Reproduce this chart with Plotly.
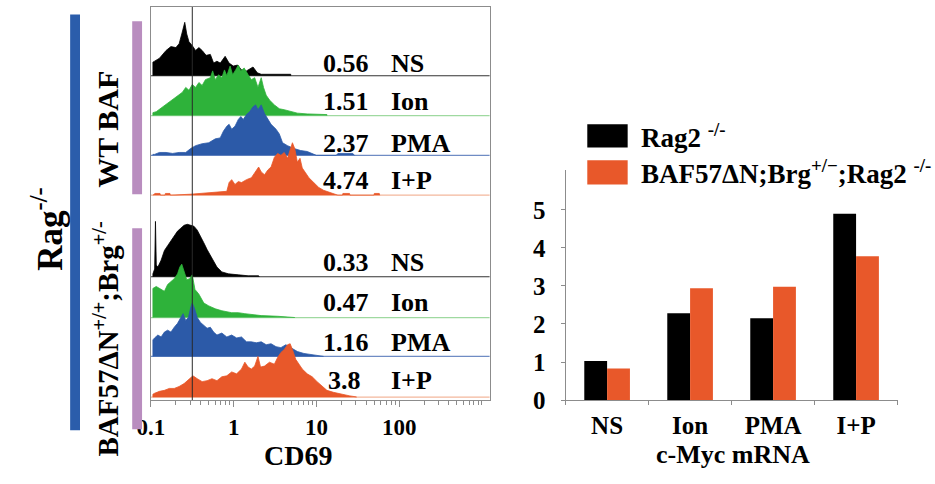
import plotly.graph_objects as go

# ---------------- data ----------------
# Flow histograms: log10(CD69) positions and event heights (arbitrary units)
wt_ns_l = [-0.976, -0.956, -0.897, -0.817, -0.758, -0.698, -0.659, -0.627, -0.591, -0.567, -0.540, -0.500, -0.460, -0.420, -0.381, -0.333, -0.282, -0.242, -0.202, -0.162, -0.103, -0.055, -0.004, 0.048, 0.095, 0.155, 0.234, 0.286, 0.333, 0.69]
wt_ns_h = [14, 15, 18, 26, 30, 29, 33, 43, 55, 43, 35, 31, 26, 29, 26, 21, 22, 13, 15, 13, 20, 13, 10, 11, 6, 5, 9, 3, 1.5, 1.5]

wt_ion_l = [-0.976, -0.936, -0.857, -0.778, -0.698, -0.619, -0.579, -0.540, -0.500, -0.460, -0.420, -0.381, -0.341, -0.282, -0.254, -0.222, -0.182, -0.143, -0.111, -0.083, -0.043, -0.012, 0.024, 0.056, 0.087, 0.127, 0.175, 0.214, 0.254, 0.294, 0.333, 0.361, 0.393, 0.433, 0.492, 0.552, 0.611, 0.691, 0.770, 0.889, 1.127]
wt_ion_h = [3, 4, 9, 14, 19, 24, 29, 26, 32, 29, 34, 31, 37, 39, 46, 37, 42, 39, 47, 41, 51, 42, 47, 52, 46, 49, 42, 37, 39, 29, 39, 29, 21, 16, 11, 7, 6, 4, 2.5, 1.7, 1]

wt_pma_l = [-0.976, -0.956, -0.897, -0.817, -0.738, -0.659, -0.579, -0.520, -0.460, -0.381, -0.301, -0.222, -0.163, -0.123, -0.083, -0.055, -0.024, 0.016, 0.056, 0.087, 0.115, 0.155, 0.194, 0.234, 0.266, 0.294, 0.333, 0.373, 0.413, 0.452, 0.512, 0.552, 0.591, 0.651, 0.730, 0.810, 0.889, 0.949, 1.0, 1.24, 1.26, 1.44, 1.46]
wt_pma_h = [1, 1, 3, 3, 2, 3, 3, 7, 10, 12, 13, 17, 18, 25, 30, 32, 27, 30, 37, 40, 37, 42, 45, 50, 52, 47, 52, 43, 37, 32, 27, 22, 13, 10, 7, 5, 4, 2, 0, 0, 2, 2, 0]

wt_ip_l = [-0.976, -0.95, -0.89, -0.885, -0.83, -0.825, -0.77, -0.765, -0.52, -0.20, -0.083, -0.055, -0.024, 0.016, 0.056, 0.095, 0.155, 0.214, 0.262, 0.302, 0.333, 0.373, 0.413, 0.452, 0.492, 0.532, 0.571, 0.611, 0.651, 0.683, 0.710, 0.738, 0.770, 0.802, 0.829, 0.869, 0.909, 0.968, 1.028, 1.087, 1.167, 1.226, 1.26, 1.315, 1.32, 1.40, 1.405, 1.695, 1.70, 1.76, 1.765]
wt_ip_h = [0, 1.8, 1.8, 0, 0, 1.8, 1.8, 0, 1, 3, 4, 13, 16, 11, 14, 13, 16, 18, 24, 29, 24, 21, 26, 29, 39, 43, 41, 44, 38, 46, 54, 48, 34, 38, 28, 23, 18, 13, 8, 5, 3, 1, 0, 0, 1.8, 1.8, 0, 0, 1.8, 1.8, 0]

mut_ns_l = [-0.976, -0.955, -0.945, -0.935, -0.916, -0.877, -0.837, -0.798, -0.758, -0.718, -0.678, -0.639, -0.599, -0.559, -0.520, -0.480, -0.440, -0.401, -0.361, -0.321, -0.282, -0.242, -0.202, -0.143, -0.063, 0.056, 0.175, 0.302, 0.31]
mut_ns_h = [3, 8, 57, 12, 10, 17, 27, 32, 37, 42, 47, 50, 53, 54, 53, 52, 48, 42, 35, 28, 22, 15, 10, 5, 3, 2, 1, 1, 0]

mut_ion_l = [-0.976, -0.936, -0.897, -0.837, -0.798, -0.758, -0.718, -0.678, -0.651, -0.627, -0.599, -0.567, -0.532, -0.500, -0.468, -0.420, -0.361, -0.301, -0.222, -0.143, -0.024, 0.056, 0.135, 0.214, 0.333, 0.532, 0.730, 0.74]
mut_ion_h = [30, 32, 30, 27, 34, 37, 40, 45, 52, 55, 47, 39, 40, 44, 29, 24, 15, 12, 9, 7, 5, 5, 4, 3, 2, 1.3, 0.5, 0]

mut_pma_l = [-0.976, -0.956, -0.916, -0.877, -0.837, -0.798, -0.758, -0.718, -0.678, -0.639, -0.611, -0.579, -0.547, -0.520, -0.500, -0.472, -0.440, -0.401, -0.361, -0.321, -0.282, -0.242, -0.202, -0.143, -0.083, -0.024, 0.036, 0.095, 0.155, 0.214, 0.274, 0.333, 0.393, 0.452, 0.512, 0.571, 0.631, 0.691, 0.770, 0.849, 0.968, 1.087]
mut_pma_h = [17, 19, 22, 20, 25, 27, 25, 30, 34, 40, 44, 37, 40, 50, 55, 49, 40, 35, 32, 29, 30, 25, 22, 24, 20, 22, 19, 20, 15, 15, 14, 15, 12, 13, 10, 9, 12, 9, 5, 3, 1.3, 0.3]

mut_ip_l = [-0.976, -0.956, -0.897, -0.837, -0.778, -0.718, -0.659, -0.599, -0.540, -0.492, -0.440, -0.381, -0.321, -0.262, -0.202, -0.143, -0.083, -0.024, 0.036, 0.095, 0.135, 0.175, 0.214, 0.254, 0.294, 0.325, 0.373, 0.433, 0.492, 0.532, 0.571, 0.611, 0.651, 0.683, 0.710, 0.750, 0.790, 0.829, 0.889, 0.949, 1.008, 1.068, 1.127, 1.206, 1.306, 1.405, 1.484]
mut_ip_h = [3, 4, 6, 7, 9, 9, 11, 14, 19, 22, 19, 16, 17, 19, 17, 21, 22, 26, 24, 29, 36, 31, 29, 32, 42, 31, 32, 36, 34, 41, 46, 49, 54, 55, 49, 39, 34, 29, 24, 21, 16, 11, 7, 5, 3, 1.3, 0.3]

stim_labels = ["NS", "Ion", "PMA", "I+P"]
wt_mfi = ["0.56", "1.51", "2.37", "4.74"]
mut_mfi = ["0.33", "0.47", "1.16", "3.8"]

# c-Myc mRNA bar chart
myc_categories = ["NS", "Ion", "PMA", "I+P"]
myc_rag2 = [1.03, 2.28, 2.15, 4.90]
myc_baf57 = [0.83, 2.94, 2.98, 3.78]
series_names = ["Rag2 <sup>-/-</sup>", "BAF57ΔN;Brg<sup>+/−</sup>;Rag2 <sup>-/-</sup>"]

hist_major = [0.1, 1, 10, 100]
hist_major_text = ["0.1", "1", "10", "100"]

# ---------------- style ----------------
FONT = "Liberation Serif"
W, H = 935, 484
BLACK = "#000000"
GREEN = "#2eb23a"
BLUE = "#2c5aa8"
ORANGE = "#e8582a"
PURPLE = "#b98dbf"
BARBLUE = "#2b5dab"
fill_colors = [BLACK, GREEN, BLUE, ORANGE]
line_colors = ["#333333", "#9fd9a0", "#6f8cc4", "#f3b79c"]
GRID = "#8c8c8c"

def px(xp):
    return xp / W

def py(yp):
    return (H - yp) / H

# histogram panel geometry (pixels)
HX0, HX1, HY0, HY1 = 139, 483, 7, 412
DEC = 84.0
LOG0 = -1.0
LOG1 = -1 + (HX1 - HX0) / DEC
YR = HY1 - HY0
row_base_px = [78, 119, 160, 201, 285, 327, 367, 409]
row_base = [HY1 - b for b in row_base_px]
label_dy = [13, 14, 12, 15, 15, 15, 14, 17]

def lpos(xp):
    return LOG0 + (xp - HX0) / DEC

groups = [
    (wt_ns_l, wt_ns_h), (wt_ion_l, wt_ion_h), (wt_pma_l, wt_pma_h), (wt_ip_l, wt_ip_h),
    (mut_ns_l, mut_ns_h), (mut_ion_l, mut_ion_h), (mut_pma_l, mut_pma_h), (mut_ip_l, mut_ip_h),
]

fig = go.Figure()

for i, (ls, hs) in enumerate(groups):
    c = i % 4
    base = row_base[i]
    fig.add_trace(go.Scatter(
        x=[10 ** LOG0, 10 ** LOG1], y=[base, base], mode="lines",
        line=dict(color=line_colors[c], width=1.2), hoverinfo="skip",
        showlegend=False, xaxis="x", yaxis="y"))
    xs = [10 ** ls[0]] + [10 ** v for v in ls] + [10 ** ls[-1]]
    ys = [base] + [base + h for h in hs] + [base]
    fig.add_trace(go.Scatter(
        x=xs, y=ys, mode="lines", fill="toself", fillcolor=fill_colors[c],
        line=dict(color=fill_colors[c], width=0.8), hoverinfo="skip",
        showlegend=False, xaxis="x", yaxis="y"))

# gate line
fig.add_trace(go.Scatter(
    x=[10 ** -0.5, 10 ** -0.5], y=[0, YR], mode="lines",
    line=dict(color="#2a2a2a", width=1), hoverinfo="skip",
    showlegend=False, xaxis="x", yaxis="y"))

# bars
bar_colors = [BLACK, ORANGE]
for name, vals, col in zip(series_names, [myc_rag2, myc_baf57], bar_colors):
    fig.add_trace(go.Bar(
        x=myc_categories, y=vals, name=name, marker=dict(color=col, line=dict(width=0)),
        showlegend=False, xaxis="x2", yaxis="y2"))

annotations = []
mfis = wt_mfi + mut_mfi
for i in range(8):
    y = row_base[i] + label_dy[i]
    xnum = lpos(312) if mfis[i] != "3.8" else lpos(317)
    annotations.append(dict(x=xnum, y=y, xref="x", yref="y", text="<b>%s</b>" % mfis[i],
                            showarrow=False, xanchor="left", yanchor="middle",
                            font=dict(family=FONT, size=26, color=BLACK)))
    annotations.append(dict(x=lpos(381), y=y, xref="x", yref="y", text="<b>%s</b>" % stim_labels[i % 4],
                            showarrow=False, xanchor="left", yanchor="middle",
                            font=dict(family=FONT, size=26, color=BLACK)))

# axis titles
annotations.append(dict(x=px(288), y=py(469), xref="paper", yref="paper", text="<b>CD69</b>",
                        showarrow=False, xanchor="center", yanchor="middle",
                        font=dict(family=FONT, size=28, color=BLACK)))
annotations.append(dict(x=px(730), y=py(468), xref="paper", yref="paper", text="<b>c-Myc mRNA</b>",
                        showarrow=False, xanchor="center", yanchor="middle",
                        font=dict(family=FONT, size=26, color=BLACK)))
# left labels
annotations.append(dict(x=px(34), y=py(236), xref="paper", yref="paper", text="<b>Rag<sup>-/-</sup></b>",
                        showarrow=False, textangle=-90, xanchor="center", yanchor="middle",
                        font=dict(family=FONT, size=35, color=BLACK)))
annotations.append(dict(x=px(95), y=py(133), xref="paper", yref="paper", text="<b>WT BAF</b>",
                        showarrow=False, textangle=-90, xanchor="center", yanchor="middle",
                        font=dict(family=FONT, size=30, color=BLACK)))
annotations.append(dict(x=px(93), y=py(349), xref="paper", yref="paper",
                        text="<b>BAF57ΔN<sup>+/+</sup>;Brg<sup>+/-</sup></b>",
                        showarrow=False, textangle=-90, xanchor="center", yanchor="middle",
                        font=dict(family=FONT, size=29, color=BLACK)))
# manual legend text
for name, yc in zip(series_names, [140, 177]):
    annotations.append(dict(x=px(634), y=py(yc), xref="paper", yref="paper", text="<b>%s</b>" % name,
                            showarrow=False, xanchor="left", yanchor="middle",
                            font=dict(family=FONT, size=27, color=BLACK)))

shapes = [
    dict(type="rect", xref="paper", yref="paper", x0=px(57), x1=px(67), y0=py(443), y1=py(15),
         fillcolor=BARBLUE, line=dict(width=0)),
    dict(type="rect", xref="paper", yref="paper", x0=px(120), x1=px(130), y0=py(200), y1=py(22),
         fillcolor=PURPLE, line=dict(width=0)),
    dict(type="rect", xref="paper", yref="paper", x0=px(120), x1=px(130), y0=py(442), y1=py(235),
         fillcolor=PURPLE, line=dict(width=0)),
    dict(type="rect", xref="paper", yref="paper", x0=px(582), x1=px(623), y0=py(152), y1=py(128),
         fillcolor=BLACK, line=dict(width=0)),
    dict(type="rect", xref="paper", yref="paper", x0=px(582), x1=px(623), y0=py(190), y1=py(165),
         fillcolor=ORANGE, line=dict(width=0)),
]

minor_vals = []
for dec in hist_major:
    for k in range(2, 10):
        minor_vals.append(round(dec * k, 6))
minor_vals.append(1000)

fig.update_layout(
    width=W, height=H, margin=dict(l=0, r=0, t=0, b=0),
    paper_bgcolor="white", plot_bgcolor="white",
    showlegend=False, bargap=0.45, bargroupgap=0, barmode="group",
    annotations=annotations, shapes=shapes,
    xaxis=dict(type="log", domain=[px(HX0), px(HX1)], range=[LOG0, LOG1],
               showline=True, mirror=True, linecolor=GRID, linewidth=1,
               showgrid=False, zeroline=False, ticks="outside", ticklen=6, tickcolor=GRID,
               tickvals=hist_major, ticktext=["<b>%s</b>" % t for t in hist_major_text],
               ticklabelstandoff=0,
               minor=dict(tickvals=minor_vals, ticks="outside", ticklen=4, tickcolor=GRID,
                          showgrid=False),
               tickfont=dict(family=FONT, size=23, color=BLACK), anchor="y"),
    yaxis=dict(domain=[py(HY1), py(HY0)], range=[0, YR], showline=True, mirror=True,
               linecolor=GRID, linewidth=1, showgrid=False, zeroline=False,
               showticklabels=False, ticks="", anchor="x"),
    xaxis2=dict(domain=[px(560), px(897)], showline=True, linecolor=GRID, linewidth=1,
                showgrid=False, zeroline=False, ticks="outside", ticklen=4, tickcolor=GRID,
                tickson="boundaries", ticklabelstandoff=3,
                tickfont=dict(family=FONT, size=25, color=BLACK), anchor="y2",
                tickvals=myc_categories, ticktext=["<b>%s</b>" % c for c in myc_categories]),
    yaxis2=dict(domain=[py(412), py(175)], range=[0, 6.05], showline=True, linecolor=GRID,
                linewidth=1, showgrid=False, zeroline=False, ticks="outside", ticklen=4,
                tickcolor=GRID, tickvals=[0, 1, 2, 3, 4, 5],
                ticktext=["<b>%d</b>" % v for v in [0, 1, 2, 3, 4, 5]], ticklabelstandoff=10,
                tickfont=dict(family=FONT, size=25, color=BLACK), anchor="x2"),
)

fig.write_html("out.html", config={"displayModeBar": False},
               post_script="document.body.style.margin='0';")
